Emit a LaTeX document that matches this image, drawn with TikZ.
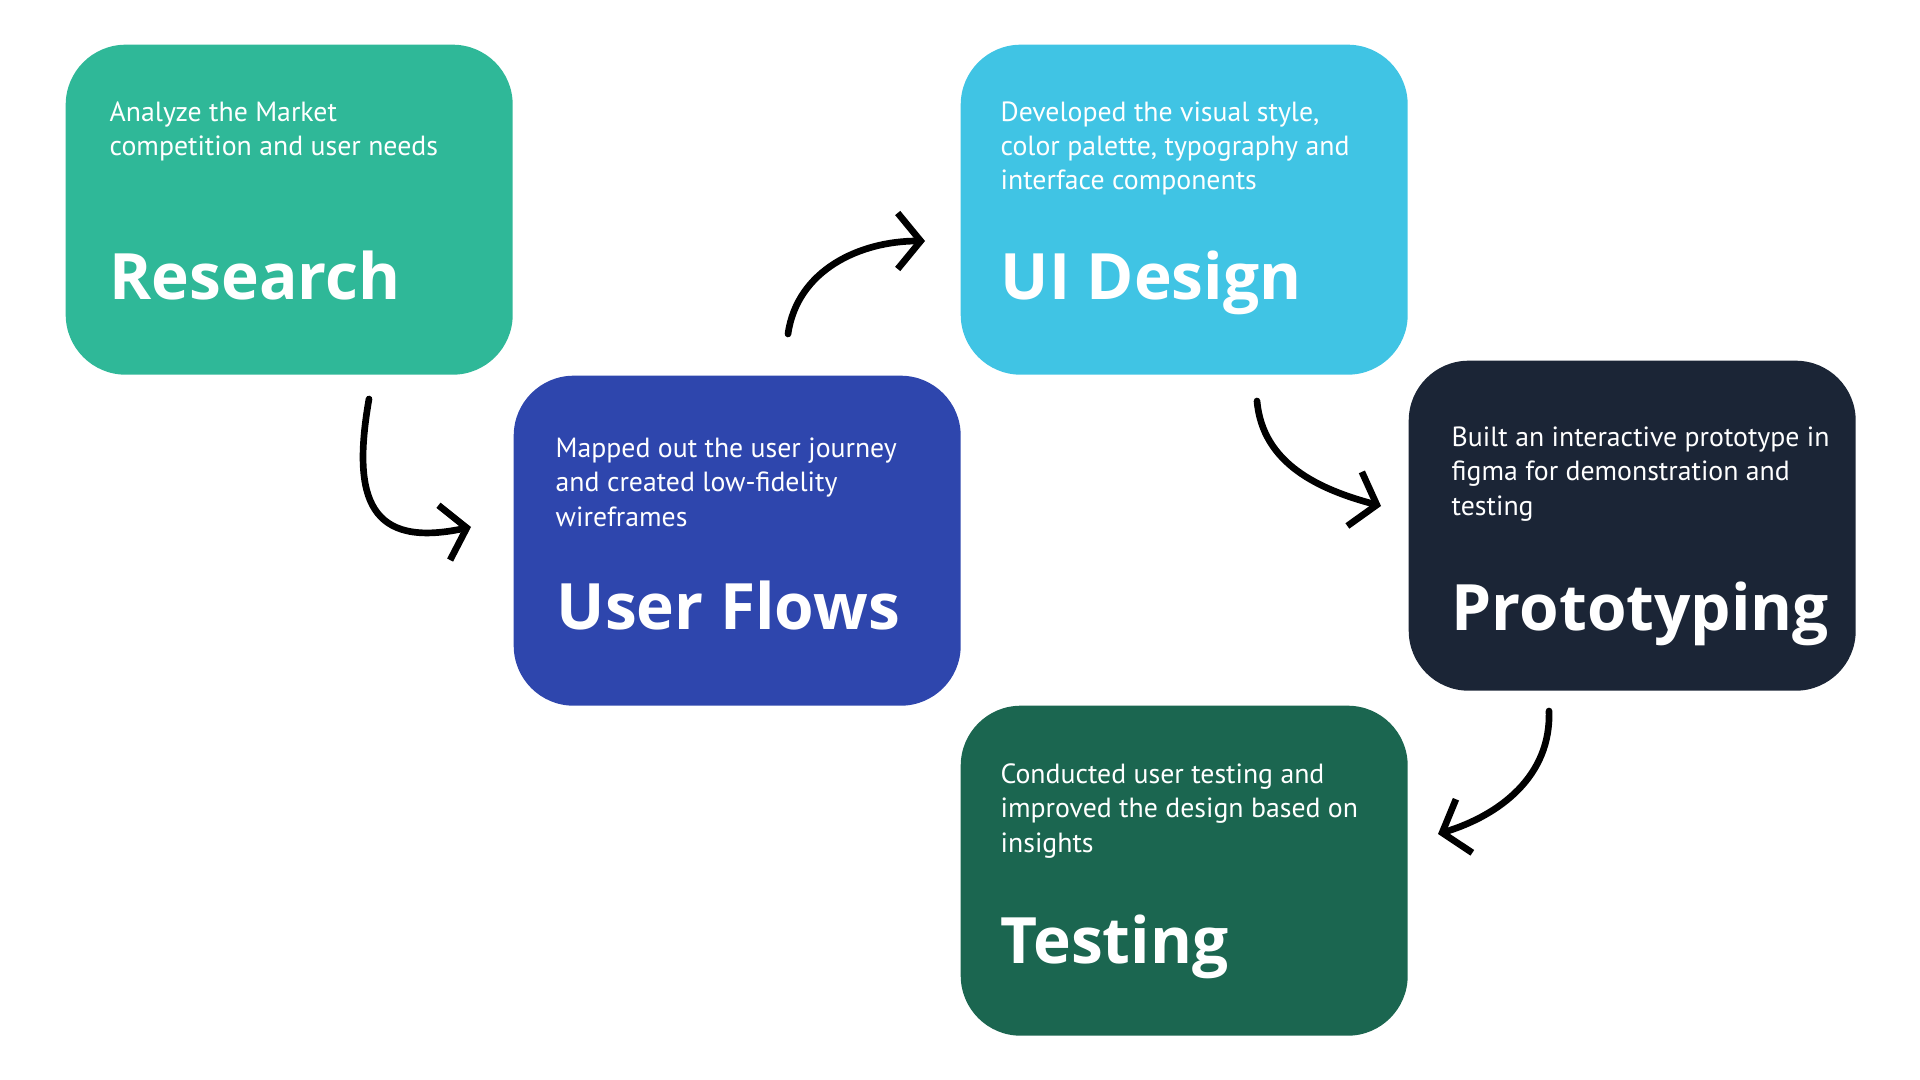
\documentclass[tikz,border=0pt]{standalone}
\usepackage{fontspec}
\setmainfont{PT Sans}
\newfontfamily\titlefont{Open Sans}
\usetikzlibrary{arrows.meta}

\definecolor{researchgreen}{HTML}{2FB898}
\definecolor{flowblue}{HTML}{2E46AD}
\definecolor{uiblue}{HTML}{40C4E4}
\definecolor{protonavy}{HTML}{1B2536}
\definecolor{testgreen}{HTML}{1B6650}

\tikzset{
    stepbox/.style={rectangle, anchor=north west, minimum width=4.47cm, minimum height=3.30cm,
                    rounded corners=0.6cm, inner sep=0pt},
    desc/.style={anchor=base west, align=left, text=white, inner sep=0pt,
                 font=\fontsize{7.9}{9.7}\selectfont},
    ttl/.style={anchor=base west, text=white, inner sep=0pt,
                font=\titlefont\fontsize{18.2}{22}\selectfont\bfseries},
    flow/.style={line width=1.9pt, line cap=round, -{Straight Barb[length=2.3mm,width=5.6mm,line width=1.9pt]}}
}

\begin{document}
\begin{tikzpicture}
    \useasboundingbox (0,0) rectangle (19.2,-10.8);

    % boxes
    \node[stepbox, fill=researchgreen] (research) at (0.65,-0.44) {};
    \node[stepbox, fill=flowblue]      (flows)    at (5.13,-3.75) {};
    \node[stepbox, fill=uiblue]        (uidesign) at (9.60,-0.44) {};
    \node[stepbox, fill=protonavy]     (proto)    at (14.08,-3.60) {};
    \node[stepbox, fill=testgreen]     (testing)  at (9.60,-7.05) {};

    % texts (base = last line)
    \node[desc] (researchtxt) at ([xshift=0.44cm,yshift=-1.12cm]research.north west)
        {Analyze the Market\\competition and user needs};
    \node[ttl] (researchttl) at ([xshift=0.44cm,yshift=-2.56cm]research.north west) {Research};

    \node[desc] (flowstxt) at ([xshift=0.42cm,yshift=-1.51cm]flows.north west)
        {Mapped out the user journey\\and created low-fidelity\\wireframes};
    \node[ttl] (flowsttl) at ([xshift=0.43cm,yshift=-2.54cm]flows.north west) {User Flows};

    \node[desc] (uitxt) at ([xshift=0.40cm,yshift=-1.46cm]uidesign.north west)
        {Developed the visual style,\\color palette, typography and\\interface components};
    \node[ttl] (uittl) at ([xshift=0.40cm,yshift=-2.56cm]uidesign.north west) {UI Design};

    \node[desc] (prototxt) at ([xshift=0.43cm,yshift=-1.55cm]proto.north west)
        {Built an interactive prototype in\\figma for demonstration and\\testing};
    \node[ttl] (protottl) at ([xshift=0.43cm,yshift=-2.70cm]proto.north west) {Prototyping};

    \node[desc] (testtxt) at ([xshift=0.40cm,yshift=-1.47cm]testing.north west)
        {Conducted user testing and\\improved the design based on\\insights};
    \node[ttl] (testttl) at ([xshift=0.40cm,yshift=-2.58cm]testing.north west) {Testing};

    % arrows
    \coordinate (a1s) at (3.69,-3.99);
    \coordinate (a1e) at (4.71,-5.27);
    \coordinate (a2s) at (7.88,-3.34);
    \coordinate (a2e) at (9.25,-2.41);
    \coordinate (a3s) at (12.57,-4.01);
    \coordinate (a3e) at (13.81,-5.06);
    \coordinate (a4s) at (15.49,-7.11);
    \coordinate (a4e) at (14.38,-8.34);

    \draw[flow] (a1s) to[out=-100,in=192,looseness=1.6] (a1e);
    \draw[flow] (a2s) to[out=82,in=180] (a2e);
    \draw[flow] (a3s) to[out=-85,in=165] (a3e);
    \draw[flow] (a4s) to[out=-88,in=17] (a4e);
\end{tikzpicture}
\end{document}
